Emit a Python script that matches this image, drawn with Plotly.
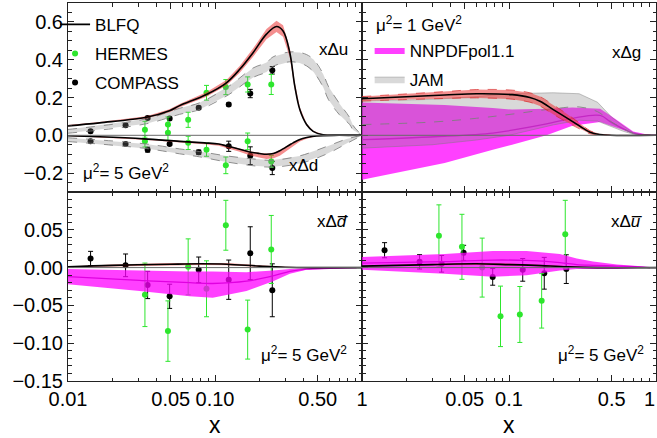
import plotly.graph_objects as go

FONT = "Liberation Sans, Arial, sans-serif"

# ---------------- top-left: x*Delta u, x*Delta d  (mu^2 = 5 GeV^2) ----------------
blfq_u_x = [0.01, 0.0164, 0.0341, 0.049, 0.0575, 0.0874, 0.1196, 0.1473, 0.1815, 0.2239, 0.262, 0.2905,
            0.3228, 0.349, 0.3776, 0.4197, 0.4653, 0.544, 0.7, 1.0]
blfq_u_y = [0.050, 0.066, 0.095, 0.130, 0.157, 0.216, 0.278, 0.349, 0.437, 0.535, 0.576, 0.552,
            0.437, 0.260, 0.136, 0.057, 0.021, 0.003, 0.0, 0.0]
blfq_u_err = [0.004, 0.005, 0.006, 0.008, 0.009, 0.012, 0.015, 0.018, 0.022, 0.027, 0.030, 0.030,
              0.025, 0.020, 0.012, 0.006, 0.003, 0.001, 0.0, 0.0]

blfq_d_x = [0.01, 0.0164, 0.0327, 0.0575, 0.085, 0.106, 0.122, 0.145, 0.172, 0.2, 0.224, 0.25, 0.276,
            0.323, 0.34, 0.378, 0.42, 0.49, 0.7, 1.0]
blfq_d_y = [-0.002, -0.008, -0.019, -0.032, -0.040, -0.046, -0.058, -0.072, -0.088, -0.096, -0.100,
            -0.096, -0.082, -0.050, -0.040, -0.022, -0.012, -0.003, 0.0, 0.0]
blfq_d_err_lo = [0.002, 0.003, 0.004, 0.005, 0.007, 0.009, 0.011, 0.014, 0.018, 0.022, 0.025, 0.026,
                 0.026, 0.022, 0.017, 0.011, 0.006, 0.002, 0.0, 0.0]
blfq_d_err_hi = [0.002, 0.002, 0.002, 0.003, 0.003, 0.003, 0.004, 0.004, 0.004, 0.004, 0.004, 0.004,
                 0.004, 0.004, 0.003, 0.003, 0.002, 0.001, 0.0, 0.0]

jam_u_x = [0.01, 0.0341, 0.0575, 0.0786, 0.1234, 0.1815, 0.224, 0.2486, 0.323, 0.377, 0.42, 0.47,
           0.544, 0.59, 0.70, 0.827, 0.87, 1.0]
jam_u_y = [0.021, 0.074, 0.127, 0.154, 0.236, 0.331, 0.360, 0.390, 0.415, 0.410, 0.397, 0.367,
           0.290, 0.225, 0.140, 0.074, 0.040, 0.0]
jam_u_err = [0.010, 0.013, 0.016, 0.018, 0.022, 0.025, 0.025, 0.025, 0.026, 0.028, 0.030, 0.033,
             0.035, 0.035, 0.030, 0.018, 0.012, 0.0]

jam_d_x = [0.01, 0.0341, 0.0575, 0.0786, 0.12, 0.173, 0.243, 0.377, 0.571, 0.785, 1.0]
jam_d_y = [-0.023, -0.058, -0.085, -0.100, -0.125, -0.141, -0.150, -0.129, -0.080, -0.032, 0.0]
jam_d_err = [0.010, 0.012, 0.013, 0.014, 0.016, 0.018, 0.018, 0.020, 0.020, 0.012, 0.0]

compass_x = [0.01424, 0.02464, 0.03481, 0.04913, 0.07745, 0.1240, 0.1737, 0.2453]
compass_u = [0.021, 0.053, 0.092, 0.089, 0.146, 0.163, 0.221, 0.344]
compass_u_err = [0.008, 0.008, 0.008, 0.008, 0.008, 0.008, 0.022, 0.020]
compass_d = [-0.032, -0.046, -0.076, -0.046, -0.090, -0.058, -0.108, -0.173]
compass_d_err = [0.008, 0.008, 0.013, 0.008, 0.012, 0.027, 0.047, 0.035]

hermes_x = [0.03337, 0.04785, 0.06569, 0.08753, 0.1185, 0.1668, 0.2414]
hermes_u = [0.030, 0.057, 0.082, 0.225, 0.255, 0.269, 0.269]
hermes_u_err = [0.044, 0.040, 0.040, 0.039, 0.040, 0.040, 0.053]
hermes_d = [-0.032, 0.013, -0.040, -0.076, -0.159, -0.032, -0.138]
hermes_d_err = [0.030, 0.040, 0.035, 0.035, 0.044, 0.044, 0.031]

# ---------------- top-right: x*Delta g  (mu^2 = 1 GeV^2) ----------------
blfq_g_x = [0.01, 0.02, 0.0365, 0.0602, 0.105, 0.1386, 0.1623, 0.2, 0.2468, 0.304, 0.356, 0.417, 0.488, 1.0]
blfq_g_y = [0.193, 0.204, 0.213, 0.220, 0.215, 0.200, 0.180, 0.136, 0.092, 0.048, 0.016, 0.004, 0.0, 0.0]
blfq_g_err = [0.012, 0.015, 0.018, 0.022, 0.024, 0.025, 0.025, 0.025, 0.022, 0.015, 0.008, 0.003, 0.001, 0.0]

jam_g_x = [0.01, 0.03, 0.06, 0.1, 0.2, 0.3, 0.4, 0.5, 0.6, 0.7, 0.8, 1.0]
jam_g_y = [0.057, 0.070, 0.090, 0.110, 0.140, 0.150, 0.125, 0.070, 0.035, 0.010, 0.002, 0.0]
jam_g_err = [0.125, 0.120, 0.115, 0.110, 0.085, 0.070, 0.050, 0.025, 0.014, 0.004, 0.001, 0.0]

nnpdf_g_x = [0.01, 0.0365, 0.0776, 0.105, 0.18, 0.27, 0.417, 0.5, 0.7, 0.9, 1.0]
nnpdf_g_hi = [0.173, 0.160, 0.145, 0.136, 0.140, 0.147, 0.140, 0.100, 0.020, 0.002, 0.0]
nnpdf_g_c = [-0.023, -0.005, 0.012, 0.027, 0.060, 0.090, 0.105, 0.067, 0.012, 0.001, 0.0]
nnpdf_g_lo = [-0.235, -0.147, -0.076, -0.050, 0.0, 0.050, 0.070, 0.050, 0.010, 0.001, 0.0]

# ---------------- bottom-left: x*Delta dbar ----------------
blfq_dbar_x = [0.01, 0.02, 0.05, 0.08, 0.12, 0.2, 0.3, 0.5, 1.0]
blfq_dbar_y = [0.001, 0.003, 0.0045, 0.005, 0.0045, 0.002, 0.0005, 0.0, 0.0]
blfq_dbar_err = [0.0005, 0.001, 0.0015, 0.0015, 0.0015, 0.001, 0.0005, 0.0, 0.0]

nnpdf_dbar_x = [0.01, 0.0307, 0.0673, 0.0965, 0.1637, 0.2486, 0.323, 0.42, 0.6, 0.92]
nnpdf_dbar_hi = [-0.002, -0.004, -0.005, -0.005, -0.006, -0.004, -0.002, -0.001, -0.0005, 0.0]
nnpdf_dbar_c = [-0.012, -0.017, -0.020, -0.021, -0.018, -0.011, -0.005, -0.002, -0.001, 0.0]
nnpdf_dbar_lo = [-0.022, -0.031, -0.038, -0.040, -0.031, -0.018, -0.008, -0.003, -0.0015, 0.0]

compass_dbar = [0.012, 0.003, -0.023, -0.038, -0.003, -0.016, 0.019, -0.030]
compass_dbar_err = [0.0095, 0.015, 0.018, 0.016, 0.017, 0.026, 0.035, 0.035]
hermes_dbar = [-0.036, -0.084, 0.001, -0.028, 0.056, -0.082, 0.024]
hermes_dbar_err = [0.042, 0.040, 0.037, 0.037, 0.033, 0.039, 0.045]

# ---------------- bottom-right: x*Delta ubar ----------------
blfq_ubar_x = [0.01, 0.03, 0.06, 0.1, 0.15, 0.25, 0.4, 1.0]
blfq_ubar_y = [0.002, 0.004, 0.005, 0.004, 0.003, 0.001, 0.0, 0.0]
blfq_ubar_err = [0.0005, 0.001, 0.0015, 0.0015, 0.001, 0.0005, 0.0, 0.0]

nnpdf_ubar_x = [0.01, 0.0365, 0.0776, 0.132, 0.222, 0.289, 0.373, 0.543, 0.75, 0.91]
nnpdf_ubar_hi = [0.014, 0.018, 0.022, 0.022, 0.018, 0.012, 0.008, 0.004, 0.002, 0.0]
nnpdf_ubar_c = [0.006, 0.008, 0.010, 0.0095, 0.0066, 0.004, 0.003, 0.002, 0.001, 0.0]
nnpdf_ubar_lo = [-0.003, -0.008, -0.012, -0.010, -0.004, -0.002, -0.002, -0.002, -0.0005, 0.0]

compass_ubar = [0.023, 0.0076, 0.005, 0.0195, -0.0123, -0.003, -0.0075, -0.002]
compass_ubar_err = [0.010, 0.0095, 0.011, 0.010, 0.011, 0.015, 0.021, 0.019]
hermes_ubar = [0.042, 0.0275, 0.0, -0.0645, -0.062, -0.044, 0.044]
hermes_ubar_err = [0.041, 0.043, 0.039, 0.040, 0.037, 0.036, 0.045]

# ticks
x_ticks = [0.01, 0.05, 0.1, 0.5, 1.0]
x_labels_left = ["0.01", "0.05", "0.10", "0.50", "1"]
x_labels_right = ["", "0.05", "0.1", "0.5", "1"]
x_minor = [0.02, 0.03, 0.04, 0.06, 0.07, 0.08, 0.09, 0.2, 0.3, 0.4, 0.6, 0.7, 0.8, 0.9]
y_top_ticks = [-0.2, 0.0, 0.2, 0.4, 0.6]
y_top_labels = ["\u22120.2", "0.0", "0.2", "0.4", "0.6"]
y_bot_ticks = [-0.15, -0.10, -0.05, 0.0, 0.05]
y_bot_labels = ["\u22120.15", "\u22120.10", "\u22120.05", "0.00", "0.05"]

# colours
RED_FILL = "rgba(236,62,62,0.58)"
RED_EDGE = "rgba(215,40,40,0.85)"
GRAY_FILL = "rgba(128,128,128,0.30)"
GRAY_EDGE = "rgba(125,125,125,0.85)"
MAG_FILL = "rgba(255,0,255,0.75)"
MAG_LINE = "rgb(225,0,225)"
GREEN = "#2de62d"

fig = go.Figure()


def axes(n):
    s = "" if n == 1 else str(n)
    return "x" + s, "y" + s


def band(x, lo, hi, color, n, name=None, legend=None, line=None, rank=None):
    xa, ya = axes(n)
    fig.add_trace(go.Scatter(
        x=list(x) + list(x)[::-1], y=list(hi) + list(lo)[::-1], fill="toself", fillcolor=color,
        mode="lines", line=line or dict(width=0), hoverinfo="skip", xaxis=xa, yaxis=ya,
        name=name, showlegend=legend is not None, legend=legend, legendgroup=name, legendrank=rank))


def curve(x, y, n, color="black", width=1.6, dash="solid", name=None, legend=None, rank=None):
    xa, ya = axes(n)
    fig.add_trace(go.Scatter(
        x=x, y=y, mode="lines", line=dict(color=color, width=width, dash=dash, shape="spline"),
        xaxis=xa, yaxis=ya, hoverinfo="skip", name=name, showlegend=legend is not None,
        legend=legend, legendgroup=name, legendrank=rank))


def points(x, y, err, color, n, name=None, legend=None, rank=None):
    xa, ya = axes(n)
    fig.add_trace(go.Scatter(
        x=x, y=y, mode="markers", marker=dict(color=color, size=6),
        error_y=dict(type="data", array=err, color=color, thickness=1, width=2.5),
        xaxis=xa, yaxis=ya, hoverinfo="skip", name=name, showlegend=legend is not None,
        legend=legend, legendgroup=name, legendrank=rank))


def plus(a, b):
    return [p + q for p, q in zip(a, b)]


def minus(a, b):
    return [p - q for p, q in zip(a, b)]


# ---- panel 1 ----
points(compass_x, compass_u, compass_u_err, "black", 1, "COMPASS", "legend", 3)
points(compass_x, compass_d, compass_d_err, "black", 1)
points(hermes_x, hermes_u, hermes_u_err, GREEN, 1, "HERMES", "legend", 2)
points(hermes_x, hermes_d, hermes_d_err, GREEN, 1)
for xx, yy, ee in [(jam_u_x, jam_u_y, jam_u_err), (jam_d_x, jam_d_y, jam_d_err)]:
    band(xx, minus(yy, ee), plus(yy, ee), GRAY_FILL, 1)
    curve(xx, plus(yy, ee), 1, GRAY_EDGE, 1.0, "dash")
    curve(xx, minus(yy, ee), 1, GRAY_EDGE, 1.0, "dash")
band(blfq_u_x, minus(blfq_u_y, blfq_u_err), plus(blfq_u_y, blfq_u_err), RED_FILL, 1)
band(blfq_d_x, minus(blfq_d_y, blfq_d_err_lo), plus(blfq_d_y, blfq_d_err_hi), RED_FILL, 1)
curve(blfq_u_x, blfq_u_y, 1, "black", 1.6, name="BLFQ", legend="legend", rank=1)
curve(blfq_d_x, blfq_d_y, 1, "black", 1.6)

# ---- panel 2 ----
band(nnpdf_g_x, nnpdf_g_lo, nnpdf_g_hi, MAG_FILL, 2, "NNPDFpol1.1", "legend2", rank=4)
curve(nnpdf_g_x, nnpdf_g_c, 2, MAG_LINE, 1.3)
band(jam_g_x, minus(jam_g_y, jam_g_err), plus(jam_g_y, jam_g_err), GRAY_FILL, 2, "JAM", "legend2",
     line=dict(width=0.8, color="rgba(120,120,120,0.55)"), rank=5)
curve(jam_g_x, jam_g_y, 2, GRAY_EDGE, 1.0, "dash")
band(blfq_g_x, minus(blfq_g_y, blfq_g_err), plus(blfq_g_y, blfq_g_err), RED_FILL, 2)
curve(blfq_g_x, plus(blfq_g_y, blfq_g_err), 2, RED_EDGE, 0.8, "dash")
curve(blfq_g_x, minus(blfq_g_y, blfq_g_err), 2, RED_EDGE, 0.8, "dash")
curve(blfq_g_x, blfq_g_y, 2, "black", 1.6)

# ---- panel 3 ----
points(compass_x, compass_dbar, compass_dbar_err, "black", 3)
points(hermes_x, hermes_dbar, hermes_dbar_err, GREEN, 3)
band(nnpdf_dbar_x, nnpdf_dbar_lo, nnpdf_dbar_hi, MAG_FILL, 3)
curve(nnpdf_dbar_x, nnpdf_dbar_c, 3, MAG_LINE, 1.3)
band(blfq_dbar_x, minus(blfq_dbar_y, blfq_dbar_err), plus(blfq_dbar_y, blfq_dbar_err), RED_FILL, 3)
curve(blfq_dbar_x, blfq_dbar_y, 3, "black", 1.6)

# ---- panel 4 ----
points(compass_x, compass_ubar, compass_ubar_err, "black", 4)
points(hermes_x, hermes_ubar, hermes_ubar_err, GREEN, 4)
band(nnpdf_ubar_x, nnpdf_ubar_lo, nnpdf_ubar_hi, MAG_FILL, 4)
curve(nnpdf_ubar_x, nnpdf_ubar_c, 4, MAG_LINE, 1.3)
band(blfq_ubar_x, minus(blfq_ubar_y, blfq_ubar_err), plus(blfq_ubar_y, blfq_ubar_err), RED_FILL, 4)
curve(blfq_ubar_x, blfq_ubar_y, 4, "black", 1.6)

FRAME = "#222222"
tickfont = dict(family=FONT, size=20, color="black")


def xaxis(domain, anchor, labels, show):
    return dict(type="log", range=[-2, 0], domain=domain, anchor=anchor, showline=True, linecolor=FRAME,
                linewidth=1, mirror="allticks", ticks="inside", ticklen=6, tickcolor=FRAME, tickwidth=1,
                tickvals=x_ticks, ticktext=labels, showticklabels=show, showgrid=False, zeroline=False,
                tickfont=tickfont, automargin=False,
                minor=dict(tickvals=x_minor, ticks="inside", ticklen=3.5, tickcolor=FRAME, showgrid=False))


def yaxis(domain, anchor, rng, vals, labels, minor_dt, show):
    return dict(range=rng, domain=domain, anchor=anchor, showline=True, linecolor=FRAME, linewidth=1,
                mirror="allticks", ticks="inside", ticklen=6, tickcolor=FRAME, tickwidth=1,
                tickvals=vals, ticktext=labels, showticklabels=show, showgrid=False, zeroline=False,
                tickfont=tickfont, automargin=False,
                minor=dict(dtick=minor_dt, tick0=0, ticks="inside", ticklen=3.5, tickcolor=FRAME,
                           showgrid=False))


fig.update_layout(
    width=657, height=438, margin=dict(l=68, r=1, t=3, b=57),
    paper_bgcolor="white", plot_bgcolor="white",
    font=dict(family=FONT, color="black"),
    xaxis=xaxis([0, 0.5], "y", x_labels_left, False),
    xaxis2=xaxis([0.5, 1], "y2", x_labels_right, False),
    xaxis3=xaxis([0, 0.5], "y3", x_labels_left, True),
    xaxis4=xaxis([0.5, 1], "y4", x_labels_right, True),
    yaxis=yaxis([0.5, 1], "x", [-0.3, 0.7], y_top_ticks, y_top_labels, 0.05, True),
    yaxis2=yaxis([0.5, 1], "x2", [-0.3, 0.7], y_top_ticks, y_top_labels, 0.05, False),
    yaxis3=yaxis([0, 0.5], "x3", [-0.15, 0.1], y_bot_ticks, y_bot_labels, 0.01, True),
    yaxis4=yaxis([0, 0.5], "x4", [-0.15, 0.1], y_bot_ticks, y_bot_labels, 0.01, False),
    legend=dict(x=-0.022, y=0.99, xanchor="left", yanchor="top", bgcolor="rgba(0,0,0,0)",
                font=dict(family=FONT, size=17, color="black"), itemwidth=30, tracegroupgap=4,
                traceorder="grouped"),
    legend2=dict(x=0.513, y=0.922, xanchor="left", yanchor="top", bgcolor="rgba(0,0,0,0)",
                 font=dict(family=FONT, size=17, color="black"), itemwidth=30, tracegroupgap=4,
                 traceorder="grouped"),
    showlegend=True,
)

# zero lines
for n in [1, 2, 3, 4]:
    xa, ya = axes(n)
    fig.add_shape(type="line", xref=xa + " domain", yref=ya, x0=0, x1=1, y0=0, y1=0,
                  line=dict(color="#6a6a6a", width=1), layer="above")


def px2paper(px, py):
    return (px - 68) / 588.0, (381 - py) / 378.0


def note(text, px, py, anchor="center", size=17):
    x, y = px2paper(px, py)
    fig.add_annotation(text=text, x=x, y=y, xref="paper", yref="paper", xanchor=anchor, yanchor="middle",
                       showarrow=False, font=dict(family=FONT, size=size, color="black"))


note("x\u0394u", 333, 50)
note("x\u0394d", 303, 165)
note("x\u0394g", 626, 52)
note("\u03bc<sup>2</sup>= 5 GeV<sup>2</sup>", 81, 172, "left")
note("\u03bc<sup>2</sup>= 1 GeV<sup>2</sup>", 374, 24, "left")
note("x\u0394<i>d\u0305</i>", 333, 222)
note("\u03bc<sup>2</sup>= 5 GeV<sup>2</sup>", 349, 354, "right")
note("x\u0394<i>u\u0305</i>", 627, 222)
note("\u03bc<sup>2</sup>= 5 GeV<sup>2</sup>", 646, 354, "right")
# axis titles
note("x", 215, 425, size=23)
note("x", 509, 425, size=23)
# right-edge tick label of the right panel
note("1", 657, 399, anchor="right", size=20)

fig.write_html("out.html", config={"displayModeBar": False},
               post_script="document.body.style.margin='0';document.body.style.padding='0';")
